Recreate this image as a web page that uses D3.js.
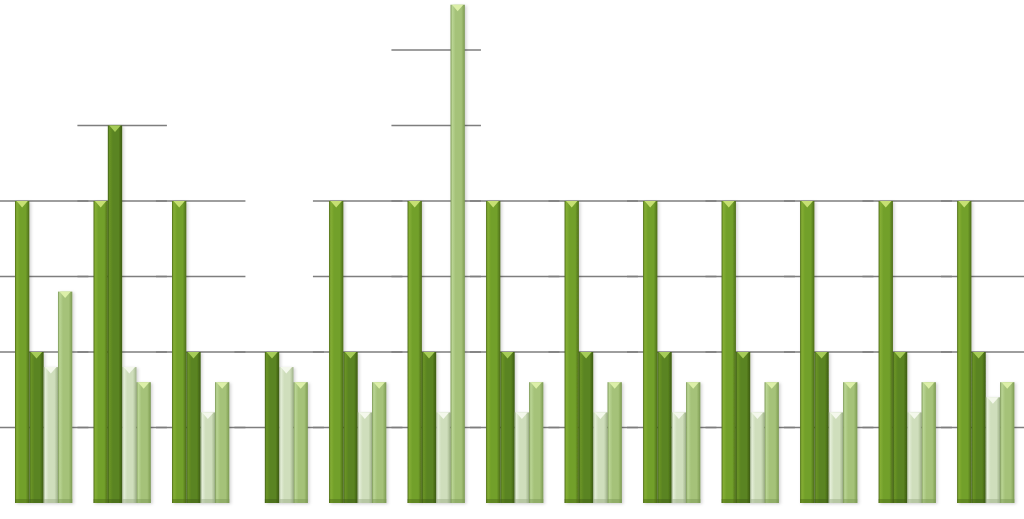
<!DOCTYPE html>
<html>
<head>
<meta charset="utf-8">
<script src="https://cdn.jsdelivr.net/npm/d3@7"></script>
<style>
  html, body { margin: 0; padding: 0; background: #fff; }
  svg { display: block; }
</style>
</head>
<body>
<svg id="chart"></svg>
<script>
'use strict';

// data
var categories = ["1", "2", "3", "4", "5", "6", "7", "8", "9", "10", "11", "12", "13"];
var seriesNames = ["s1", "s2", "s3", "s4"];
var series1 = [4, 4, 4, 0, 4, 4, 4, 4, 4, 4, 4, 4, 4];
var series2 = [2, 5, 2, 2, 2, 2, 2, 2, 2, 2, 2, 2, 2];
var series3 = [1.8, 1.8, 1.2, 1.8, 1.2, 1.2, 1.2, 1.2, 1.2, 1.2, 1.2, 1.2, 1.4];
var series4 = [2.8, 1.6, 1.6, 1.6, 1.6, 6.6, 1.6, 1.6, 1.6, 1.6, 1.6, 1.6, 1.6];
var yTicks = [1, 2, 3, 4, 5, 6];

var W = 1024, H = 519;
var colors = [
    {edge: "#4c6a16", light: "#84ae34", main: "#72a02a", dark: "#5c8220", tip: "#c6e072"},
    {edge: "#3e5e16", light: "#6a9426", main: "#5a8420", dark: "#486a18", tip: "#a6cc58"},
    {edge: "#9aab86", light: "#e4eed8", main: "#cfdebc", dark: "#b4c69e", tip: "#f4f8ec"},
    {edge: "#7a9654", light: "#bad594", main: "#a5c279", dark: "#8dab60", tip: "#dcefa8"}
];

var svg = d3.select("#chart").attr("width", W).attr("height", H);

var x0 = d3.scaleBand().domain(categories).range([4.4, 1025])
    .paddingInner(0.27).paddingOuter(0.135);
var x1 = d3.scaleBand().domain(seriesNames).range([0, x0.bandwidth()]);
var y = d3.scaleLinear().domain([0, 7]).range([503, 503 - 7 * 75.5]);

// gradients for the bevelled bar look
var defs = svg.append("defs");
colors.forEach(function(c, i) {
    var g = defs.append("linearGradient").attr("id", "grad" + i)
        .attr("x1", "0").attr("x2", "1").attr("y1", "0").attr("y2", "0");
    [[0, c.edge], [0.12, c.light], [0.35, c.main], [0.75, c.main], [0.9, c.dark], [1, c.edge]]
        .forEach(function(s) {
            g.append("stop").attr("offset", s[0]).attr("stop-color", s[1]);
        });
});
var f = defs.append("filter").attr("id", "shadow")
    .attr("x", "-30%").attr("y", "-5%").attr("width", "160%").attr("height", "115%");
f.append("feDropShadow").attr("dx", 1.5).attr("dy", 1).attr("stdDeviation", 1.5)
    .attr("flood-color", "#000").attr("flood-opacity", 0.18);

var rows = categories.map(function(c, i) {
    return {cat: c, vals: [series1[i], series2[i], series3[i], series4[i]]};
});

// gridlines: drawn only around each group, up to its highest bar
var ext = (x0.step() - x0.bandwidth()) / 2 + 5.5;
var grid = svg.append("g");
rows.forEach(function(r) {
    var mx = d3.max(r.vals);
    yTicks.filter(function(t) { return t <= mx + 0.05; }).forEach(function(t) {
        grid.append("line")
            .attr("x1", x0(r.cat) - ext)
            .attr("x2", x0(r.cat) + x0.bandwidth() + ext)
            .attr("y1", y(t)).attr("y2", y(t))
            .attr("stroke", "#7e7e7e")
            .attr("stroke-width", 1.6);
    });
});

// bars
var groups = svg.append("g").selectAll("g")
    .data(rows).enter().append("g")
    .attr("transform", function(d) { return "translate(" + x0(d.cat) + ",0)"; });

var bars = groups.selectAll("g")
    .data(function(d) {
        return d.vals.map(function(v, i) { return {s: seriesNames[i], i: i, v: v}; })
            .filter(function(e) { return e.v > 0; });
    })
    .enter().append("g")
    .attr("filter", "url(#shadow)");

var bw = x1.bandwidth();
bars.append("rect")
    .attr("x", function(d) { return x1(d.s); })
    .attr("y", function(d) { return y(d.v); })
    .attr("width", bw)
    .attr("height", function(d) { return y(0) - y(d.v); })
    .attr("fill", function(d) { return "url(#grad" + d.i + ")"; });

// darker foot of each bar
bars.append("rect")
    .attr("x", function(d) { return x1(d.s); })
    .attr("y", y(0) - 4)
    .attr("width", bw)
    .attr("height", 4)
    .attr("fill", function(d) { return colors[d.i].edge; })
    .attr("opacity", 0.45);

// bevelled tip on top
bars.append("path")
    .attr("d", function(d) {
        var l = x1(d.s) + 1.5, r = x1(d.s) + bw - 1.5, t = y(d.v), m = x1(d.s) + bw / 2;
        return "M" + l + "," + t + "L" + r + "," + t + "L" + m + "," + (t + 6.5) + "Z";
    })
    .attr("fill", function(d) { return colors[d.i].tip; });
</script>
</body>
</html>
